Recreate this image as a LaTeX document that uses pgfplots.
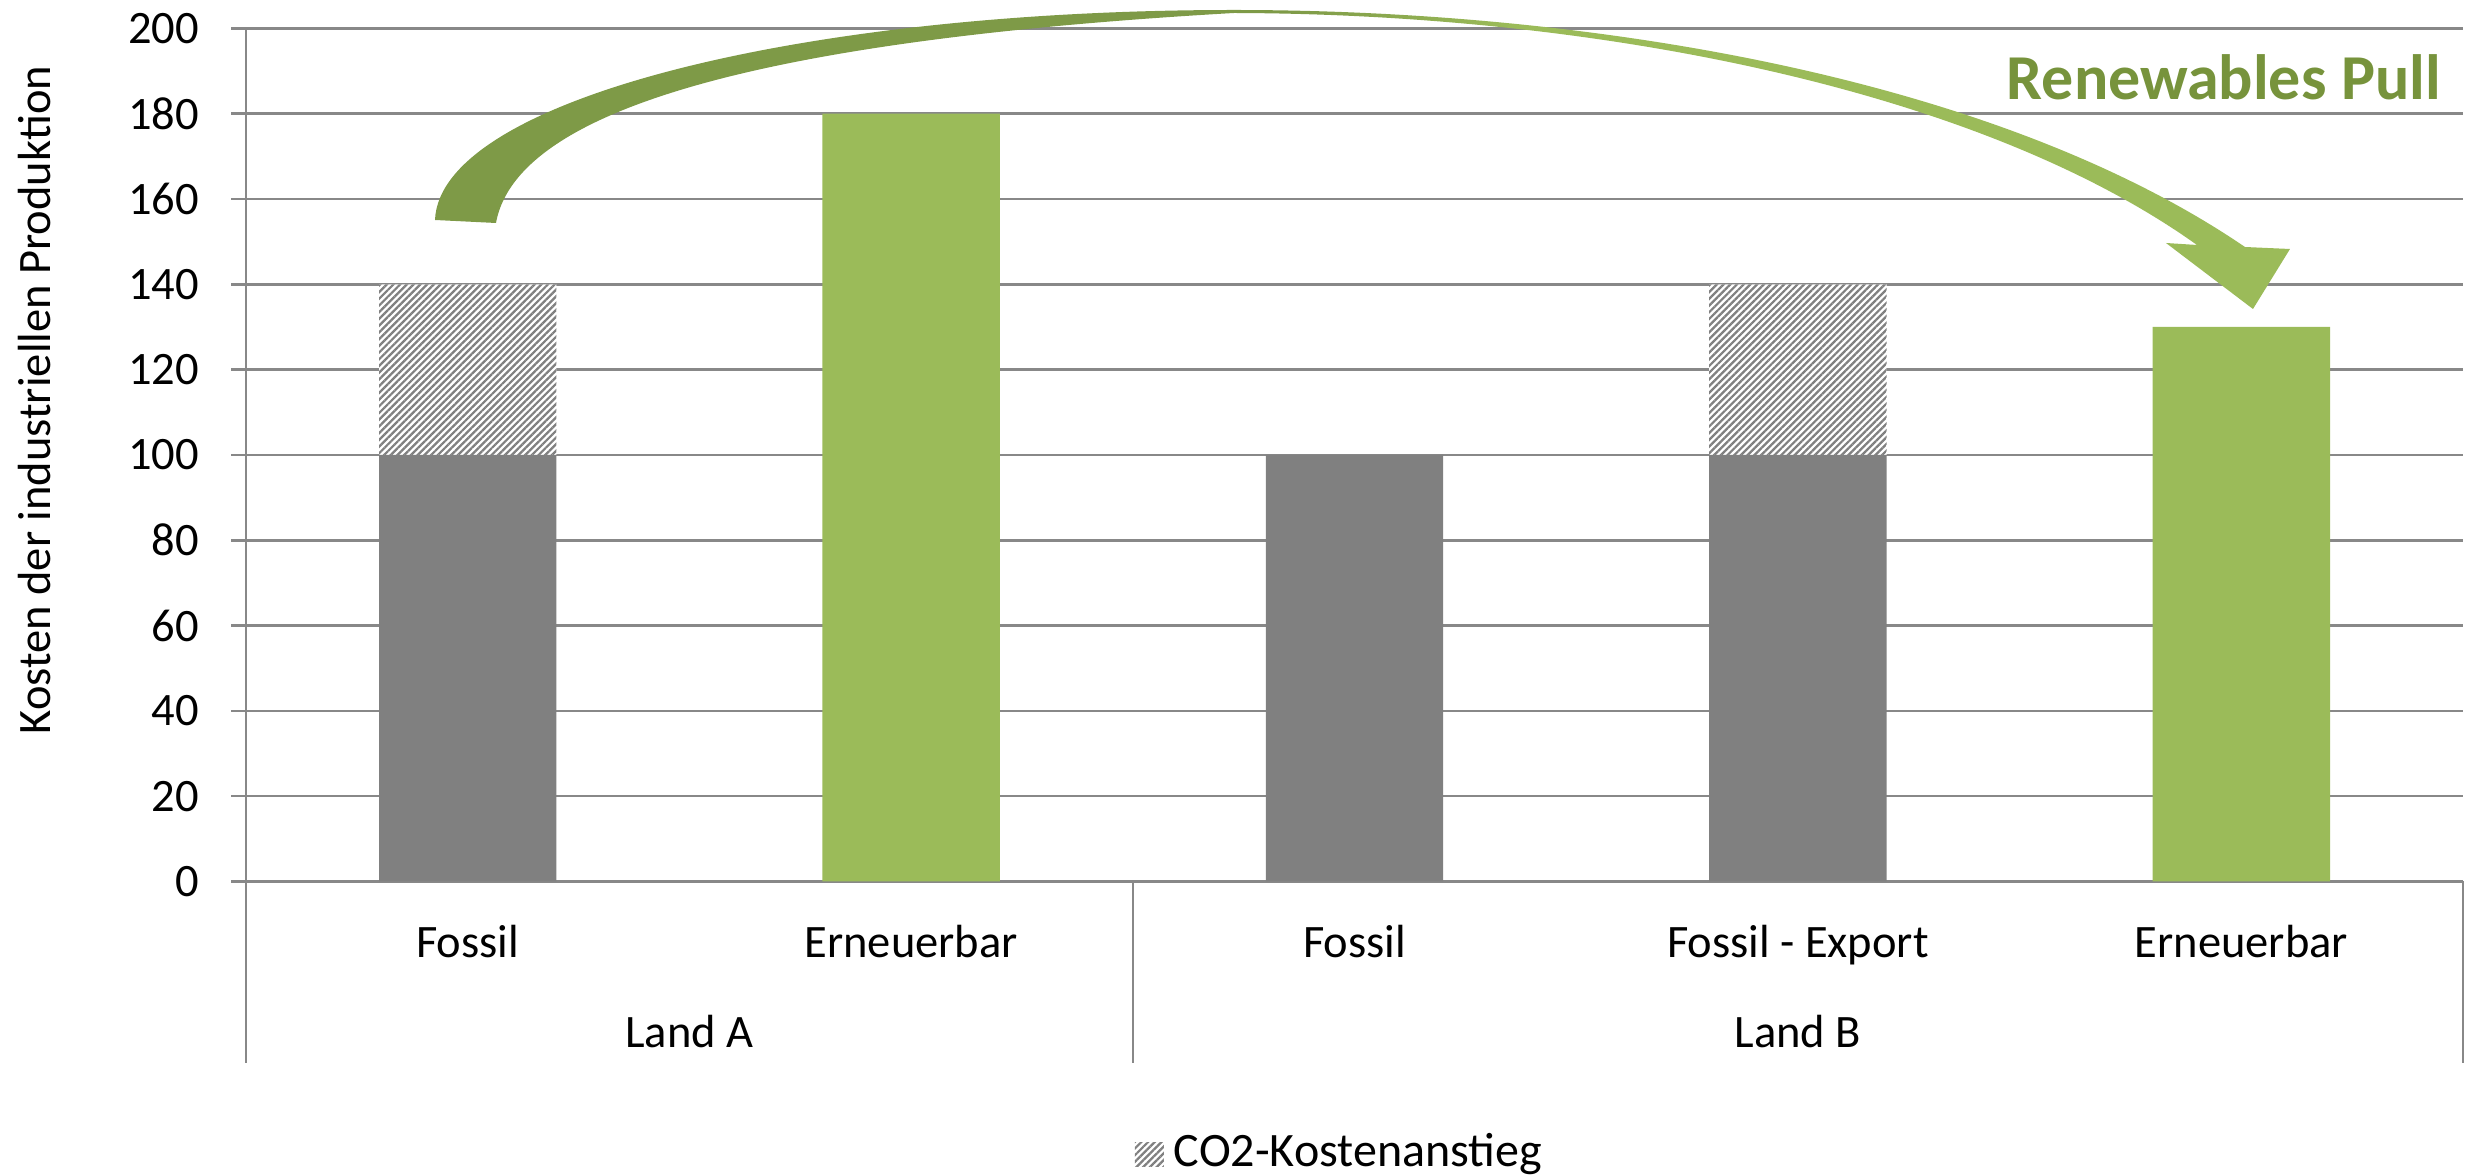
\documentclass[border=0pt]{standalone}
\usepackage{pgfplots}
\pgfplotsset{compat=1.18}
\usepackage{fontspec}
\setmainfont{Carlito}
\usetikzlibrary{patterns.meta}
\definecolor{barGray}{HTML}{808080}
\definecolor{barGreen}{HTML}{9BBB59}
\definecolor{gridGray}{HTML}{888888}
\definecolor{arrowDark}{HTML}{7E9A47}
\definecolor{arrowLight}{HTML}{9BBB59}
\definecolor{titleGreen}{HTML}{77933C}
\pgfdeclarehorizontalshading{arrowshade}{100bp}{color(0bp)=(arrowDark); color(48bp)=(arrowDark); color(54bp)=(arrowLight); color(100bp)=(arrowLight)}
\newcommand\f{\fontsize{9.3pt}{11pt}\selectfont}
\tikzset{hatch/.style={preaction={fill=white}, pattern={Lines[angle=45,distance=0.95pt,line width=0.45pt]}, pattern color=barGray}}
\begin{document}
\begin{tikzpicture}
\begin{axis}[
  scale only axis, width=443.4pt, height=170.62pt,
  xmin=-0.5, xmax=4.5, ymin=0, ymax=200,
  clip=false,
  ybar stacked, bar width=0.4,
  axis lines*=left,
  axis line style={draw=gridGray, line width=0.5pt, -},
  ytick={0,20,...,200},
  ymajorgrids, grid style={gridGray, line width=0.5pt},
  xtick={0,1,2,3,4},
  xticklabels={Fossil,Erneuerbar,Fossil,Fossil - Export,Erneuerbar},
  xtick style={draw=none}, xtick align=inside,
  ytick style={draw=gridGray, line width=0.5pt}, ytick align=outside,
  major tick length=3pt,
  /pgf/number format/assume math mode=true,
  tick label style={font=\f},
  yticklabel style={anchor=east, inner sep=0pt, xshift=-6.2pt},
  xticklabel style={anchor=base, inner sep=0pt, yshift=-15.3pt},
  ylabel={Kosten der industriellen Produktion},
  ylabel style={at={(rel axis cs:-0.0884,0.5644)}, anchor=base, font=\f, inner sep=0pt},
  legend style={at={(rel axis cs:0.495,-0.3558)}, anchor=south, draw=none, fill=none, font=\fontsize{9.6pt}{11pt}\selectfont, inner sep=0pt},
  legend image code/.code={\fill[hatch, yshift=-0.25em] (0pt,0pt) rectangle (5.8pt,4.8pt);},
]
\addplot[fill=barGray, draw=none, forget plot] coordinates {(0,100) (1,0) (2,100) (3,100) (4,0)};
\addplot[fill=barGreen, draw=none, forget plot] coordinates {(0,0) (1,180) (2,0) (3,0) (4,130)};
\addplot[hatch, draw=none] coordinates {(0,40) (1,0) (2,0) (3,40) (4,0)};
\addlegendentry{CO2-Kostenanstieg}
\draw[gridGray, line width=0.5pt] (axis cs:-0.5,0) -- ++(0pt,-36.3pt);
\draw[gridGray, line width=0.5pt] (axis cs:1.5,0) -- ++(0pt,-36.3pt);
\draw[gridGray, line width=0.5pt] (axis cs:4.5,0) -- ++(0pt,-36.3pt);
\node[anchor=base, font=\f, inner sep=0pt, yshift=-33.3pt] at (axis cs:0.5,0) {Land A};
\node[anchor=base, font=\f, inner sep=0pt, yshift=-33.3pt] at (axis cs:3,0) {Land B};
\coordinate (TL) at (rel axis cs:-0.11096,1.03329);
\coordinate (BR) at (rel axis cs:1.00451,-0.34404);
\end{axis}
\begin{scope}[shift={(TL)}, x=0.2pt, y=-0.2pt]
\shade[shading=arrowshade]
  (435,220) .. controls (440,100) and (800,10) .. (1234,10)
  .. controls (1600,10) and (2000,80) .. (2245,247)
  -- (2290,249) -- (2253,309) -- (2166,243) -- (2197,245)
  .. controls (1980,90) and (1600,14) .. (1234,13)
  .. controls (850,35) and (520,90) .. (496,223)
  -- cycle;
\node[anchor=base east, inner sep=0pt, font=\fontsize{12.8pt}{15pt}\selectfont\bfseries, text=titleGreen] at (2442,100) {Renewables Pull};
\end{scope}
\pgfresetboundingbox
\path[use as bounding box] (TL) rectangle (BR);
\end{tikzpicture}
\end{document}
